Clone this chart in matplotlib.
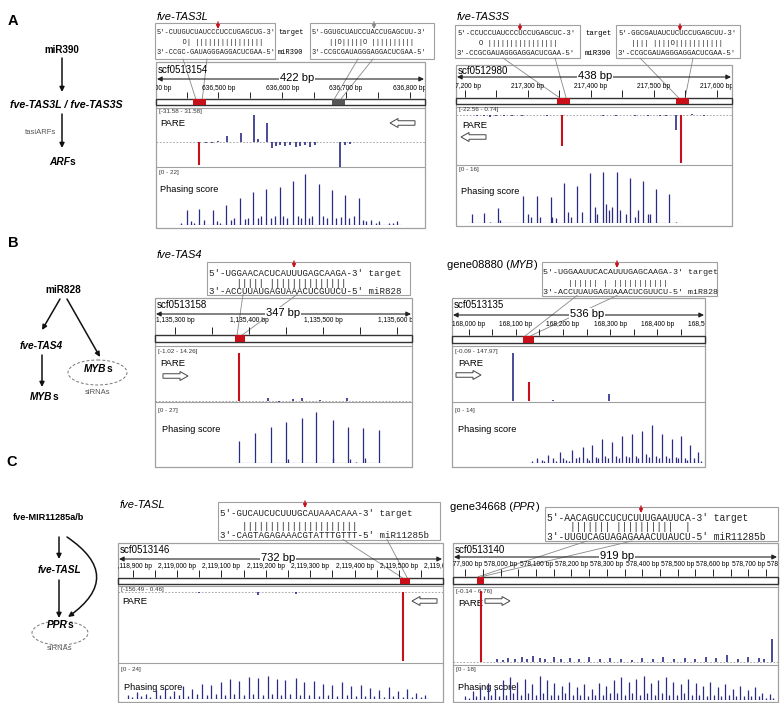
import matplotlib
matplotlib.use("Agg")
import matplotlib.pyplot as plt
from matplotlib.patches import Rectangle, Ellipse, FancyArrow, FancyArrowPatch

plt.rcParams['font.family'] = ['Liberation Sans', 'DejaVu Sans']

W, H = 780, 703
RED = '#c8101a'
NAVY = '#2b2b86'
GRAY = '#a0a0a0'
MONO = 'Liberation Mono'

# ======================= DATA =======================
# ---- A left: fve-TAS3L ----
TAS3L_region = [636402, 422]
TAS3L_ticks = [636400, 636500, 636600, 636700, 636800]
TAS3L_sites = [[636460, 636481], [636678, 636699]]
TAS3L_site_colors = ['red', 'gray']
TAS3L_pare_range = [-31.58, 31.58]
TAS3L_pare_pos = [636420, 636430, 636440, 636480, 636490, 636500, 636513, 636535, 636556, 636562,
                  636576, 636584, 636590, 636597, 636604, 636612, 636622, 636628, 636636, 636644,
                  636651, 636691, 636699, 636706, 636720, 636750, 636790, 636800]
TAS3L_pare_val = [0.5, -0.5, 0.5, -1.0, -1.5, 1.0, 6.5, 9.8, 29.4, 3.0,
                  20.7, -6.0, -4.0, -3.0, -4.0, -3.0, -5.0, -4.0, -3.0, -5.0,
                  -3.0, -27.2, -3.0, -2.0, 0.5, -0.5, 0.5, 0.5]
TAS3L_red_pos = [636469]
TAS3L_red_val = [-25.0]
TAS3L_phase_range = [0, 22]
TAS3L_phase_pos = [636450, 636470, 636491, 636512, 636534, 636554, 636575, 636596, 636617, 636636,
                   636657, 636678, 636699, 636720, 636740,
                   636442, 636457, 636462, 636477, 636497, 636502, 636520, 636524, 636542, 636547,
                   636562, 636567, 636582, 636588, 636602, 636607, 636624, 636630, 636642, 636647,
                   636664, 636670, 636685, 636692, 636705, 636712, 636727, 636732, 636747, 636752,
                   636767, 636774, 636780]
TAS3L_phase_val = [6.3, 7.0, 6.3, 8.7, 11.7, 14.0, 15.5, 16.2, 18.7, 21.9,
                   17.6, 14.8, 12.7, 11.3, 2.0,
                   1.0, 1.5, 1.0, 2.0, 1.5, 1.0, 2.0, 3.0, 2.5, 3.0,
                   3.0, 4.0, 3.0, 4.0, 4.0, 3.0, 4.0, 3.0, 3.0, 4.0,
                   4.0, 3.0, 3.0, 3.5, 3.0, 4.0, 2.0, 1.5, 1.0, 1.5,
                   1.0, 1.0, 1.5]
TAS3L_align1 = ["5'-CUUGUCUAUCCCUCCUGAGCUG-3'", "      O| ||||||||||||||||", "3'-CCGC-GAUAGGGAGGACUCGAA-5'"]
TAS3L_align2 = ["5'-GGUGCUAUCCUACCUGAGCUU-3'", "    ||O|||||O ||||||||||", "3'-CCGCGAUAGGGAGGACUCGAA-5'"]

# ---- A right: fve-TAS3S ----
TAS3S_region = [217186, 438]
TAS3S_ticks = [217200, 217300, 217400, 217500, 217600]
TAS3S_sites = [[217346, 217367], [217535, 217556]]
TAS3S_site_colors = ['red', 'red']
TAS3S_pare_range = [-22.56, 0.74]
TAS3S_pare_pos = [217220, 217230, 217240, 217250, 217262, 217275, 217290, 217330, 217420, 217440,
                  217470, 217490, 217510, 217520, 217535, 217560, 217580]
TAS3S_pare_val = [-0.6, -0.4, -0.8, -0.5, -0.6, -0.4, -0.3, -0.5, -0.4, -0.3,
                  -0.5, -0.7, -0.4, -0.6, -7.0, 0.3, -0.3]
TAS3S_red_pos = [217354, 217543]
TAS3S_red_val = [-14.3, -22.56]
TAS3S_phase_range = [0, 16]
TAS3S_phase_pos = [217211, 217231, 217253, 217293, 217314, 217336, 217357, 217378, 217399, 217420,
                   217441, 217462, 217483, 217504, 217524,
                   217300, 217305, 217320, 217339, 217344, 217364, 217369, 217386, 217407, 217410,
                   217424, 217429, 217434, 217446, 217456, 217470, 217475, 217491, 217494, 217256,
                   217240, 217535]
TAS3S_phase_val = [2.8, 3.1, 4.6, 8.5, 8.5, 8.1, 12.4, 11.6, 15.7, 16.0,
                   16.0, 14.1, 13.1, 10.5, 9.0,
                   3.0, 2.0, 2.0, 2.0, 1.5, 3.5, 2.0, 3.5, 5.0, 3.0,
                   6.0, 4.0, 5.0, 4.0, 3.0, 2.0, 4.0, 3.0, 3.0, 1.0,
                   0.5, 0.5]
TAS3S_align1 = ["5'-CCUCCUAUCCCUCCUGAGCUC-3'", "     O ||||||||||||||||", "3'-CCGCGAUAGGGAGGACUCGAA-5'"]
TAS3S_align2 = ["5'-GGCGAUAUCUCUCCUGAGCUU-3'", "   |||| ||||O|||||||||||", "3'-CCGCGAUAGGGAGGACUCGAA-5'"]

# ---- B left: fve-TAS4 ----
TAS4_region = [1135273, 347]
TAS4_ticks = [1135300, 1135400, 1135500, 1135600]
TAS4_sites = [[1135381, 1135395]]
TAS4_site_colors = ['red']
TAS4_pare_range = [-1.02, 14.26]
TAS4_pare_pos = [1135426, 1135440, 1135460, 1135471, 1135496, 1135532]
TAS4_pare_val = [0.8, -0.3, 0.6, 0.9, 0.3, 0.7]
TAS4_red_pos = [1135387]
TAS4_red_val = [14.26]
TAS4_phase_range = [0, 27]
TAS4_phase_pos = [1135387, 1135408, 1135429, 1135450, 1135471, 1135491, 1135513, 1135533, 1135554, 1135575,
                  1135452, 1135514, 1135536, 1135557, 1135545]
TAS4_phase_val = [11.8, 16.0, 18.8, 21.8, 23.5, 27.0, 22.6, 18.8, 18.3, 17.4,
                  2.0, 3.0, 2.0, 3.0, 0.5]
TAS4_align = ["5'-UGGAACACUCAUUUGAGCAAGA-3' target", "     ||||| ||||||||||||||", "3'-ACCUUAUGAGUAAACUCGUUCU-5' miR828"]

# ---- B right: gene08880 (MYB) ----
MYB_region = [167965, 536]
MYB_ticks = [168000, 168100, 168200, 168300, 168400, 168500]
MYB_sites = [[168116, 168139]]
MYB_site_colors = ['red']
MYB_pare_range = [-0.09, 147.97]
MYB_pare_pos = [168095, 168298, 168050, 168180, 168240, 168400]
MYB_pare_val = [147.97, 21.0, 0.8, 1.0, 0.6, 0.8]
MYB_red_pos = [168129]
MYB_red_val = [58.0]
MYB_phase_range = [0, 14]
MYB_phase_pos = [168145, 168169, 168194, 168220, 168243, 168262, 168283, 168304, 168325, 168347,
                 168368, 168389, 168410, 168431, 168450, 168469, 168486,
                 168135, 168155, 168160, 168178, 168185, 168200, 168206, 168212, 168228, 168235,
                 168250, 168255, 168270, 168275, 168290, 168296, 168312, 168318, 168333, 168340,
                 168355, 168360, 168376, 168382, 168397, 168403, 168418, 168424, 168439, 168444,
                 168458, 168463, 168477, 168492]
MYB_phase_val = [1.5, 2.2, 3.0, 3.6, 4.4, 5.1, 6.6, 5.8, 7.3, 8.0,
                 8.8, 10.5, 8.0, 6.6, 7.3, 5.1, 3.0,
                 0.7, 1.0, 0.7, 1.4, 0.7, 1.4, 1.0, 0.7, 1.4, 1.8,
                 1.4, 1.0, 1.8, 1.4, 2.1, 1.4, 2.1, 1.4, 2.1, 1.8,
                 2.1, 1.4, 2.5, 1.8, 2.1, 1.4, 2.1, 1.4, 1.8, 1.4,
                 1.4, 1.0, 1.4, 0.7]
MYB_align = ["5'-UGGAAUUCACAUUUGAGCAAGA-3' target", "     |||||| | |||||||||||", "3'-ACCUUAUGAGUAAACUCGUUCU-5' miR828"]

# ---- C left: fve-TASL ----
TASL_region = [2118867, 732]
TASL_ticks = [2118900, 2119000, 2119100, 2119200, 2119300, 2119400, 2119500, 2119600]
TASL_sites = [[2119503, 2119525]]
TASL_site_colors = ['red']
TASL_pare_range = [-156.49, 0.46]
TASL_pare_pos = [2118950, 2119050, 2119100, 2119182, 2119269, 2119350]
TASL_pare_val = [-1.0, -1.5, -1.0, -6.0, -4.0, -0.5]
TASL_red_pos = [2119510]
TASL_red_val = [-156.49]
TASL_phase_range = [0, 24]
TASL_phase_pos = [2118889, 2118909, 2118930, 2118952, 2118972, 2118994, 2119014, 2119034, 2119057, 2119077,
                  2119099, 2119119, 2119139, 2119162, 2119182, 2119204, 2119224, 2119244, 2119267, 2119287,
                  2119309, 2119329, 2119349, 2119372, 2119392, 2119414, 2119434, 2119454, 2119477, 2119497,
                  2119519, 2119539, 2119559,
                  2118899, 2118919, 2118940, 2118962, 2118983, 2119004, 2119024, 2119045, 2119067, 2119088,
                  2119109, 2119129, 2119150, 2119172, 2119193, 2119214, 2119234, 2119255, 2119277, 2119298,
                  2119319, 2119339, 2119360, 2119382, 2119403, 2119424, 2119444, 2119465, 2119487, 2119508,
                  2119529, 2119549]
TASL_phase_val = [3.2, 5.6, 4.0, 7.2, 8.8, 6.0, 10.0, 8.0, 12.0, 11.2,
                  13.2, 15.2, 14.0, 16.8, 16.0, 17.6, 15.2, 14.4, 16.0, 13.2,
                  14.0, 12.0, 11.2, 12.8, 10.0, 11.2, 8.8, 7.2, 9.6, 6.0,
                  8.0, 4.8, 3.2,
                  1.6, 2.4, 1.6, 3.2, 2.4, 3.2, 2.4, 4.0, 3.2, 4.0,
                  3.2, 4.0, 3.2, 4.0, 3.2, 4.0, 3.2, 4.0, 3.2, 3.2,
                  2.4, 3.2, 2.4, 3.2, 2.4, 2.4, 2.4, 1.6, 2.4, 1.6,
                  1.6, 1.2]
TASL_align = ["5'-GUCAUCUCUUUGCAUAAACAAA-3' target", "    |||||||||||||||||||||", "3'-CAGTAGAGAAACGTATTTGTTT-5' miR11285b"]

# ---- C right: gene34668 (PPR) ----
PPR_region = [577865, 919]
PPR_ticks = [577900, 578000, 578100, 578200, 578300, 578400, 578500, 578600, 578700, 578800]
PPR_sites = [[577932, 577952]]
PPR_site_colors = ['red']
PPR_pare_range = [-0.14, 6.76]
PPR_pare_pos = [577990, 578005, 578020, 578040, 578060, 578075, 578090, 578110, 578125, 578150,
                578170, 578195, 578220, 578250, 578280, 578310, 578340, 578370, 578400, 578430,
                578460, 578490, 578520, 578550, 578580, 578610, 578640, 578670, 578700, 578730,
                578745, 578766]
PPR_pare_val = [0.3, 0.2, 0.4, 0.3, 0.5, 0.3, 0.6, 0.4, 0.3, 0.5,
                0.3, 0.4, 0.3, 0.5, 0.3, 0.4, 0.3, 0.2, 0.4, 0.3,
                0.5, 0.3, 0.4, 0.3, 0.5, 0.4, 0.7, 0.3, 0.5, 0.4,
                0.3, 2.2]
PPR_red_pos = [577943]
PPR_red_val = [6.76]
PPR_phase_range = [0, 18]
PPR_phase_pos = [577900, 577921, 577942, 577963, 577984, 578005, 578026, 578047, 578068, 578089,
                 578110, 578131, 578152, 578173, 578194, 578215, 578236, 578257, 578278, 578299,
                 578320, 578341, 578362, 578383, 578404, 578425, 578446, 578467, 578488, 578509,
                 578530, 578551, 578572, 578593, 578614, 578635, 578656, 578677, 578698, 578719,
                 578740, 578761,
                 577910, 577931, 577952, 577973, 577994, 578015, 578036, 578057, 578078, 578099,
                 578120, 578141, 578162, 578183, 578204, 578225, 578246, 578267, 578288, 578309,
                 578330, 578351, 578372, 578393, 578414, 578435, 578456, 578477, 578498, 578519,
                 578540, 578561, 578582, 578603, 578624, 578645, 578666, 578687, 578708, 578729,
                 578750, 578771]
PPR_phase_val = [2.4, 4.8, 7.2, 9.6, 6.4, 11.2, 12.8, 10.4, 12.0, 8.8,
                 13.6, 11.2, 9.6, 8.0, 10.4, 7.2, 8.8, 6.4, 9.6, 8.0,
                 11.2, 12.8, 10.4, 12.0, 13.6, 9.6, 11.2, 12.8, 10.4, 8.8,
                 12.0, 9.6, 8.0, 10.4, 7.2, 8.8, 6.4, 8.0, 5.6, 7.2,
                 4.0, 3.2,
                 1, 2, 2, 3, 2, 3, 4, 3, 4, 3,
                 4, 3, 3, 4, 3, 3, 2, 3, 3, 4,
                 4, 3, 4, 3, 4, 3, 4, 3, 3, 4,
                 3, 3, 2, 3, 2, 3, 2, 2, 2, 2,
                 1, 1]
PPR_align = ["5'-AACAGUCCUCUCUUUGAAUUCA-3' target", "    ||||||| ||||||||||  |", "3'-UUGUCAGUAGAGAAACUUAUCU-5' miR11285b"]

# ======================= FIGURE =======================
fig = plt.figure(figsize=(W / 100, H / 100), dpi=100)
bg = fig.add_axes([0, 0, 1, 1])
bg.set_xlim(0, W)
bg.set_ylim(H, 0)
bg.set_axis_off()
bg.set_zorder(0)
_r = fig.canvas.get_renderer()


def add_ax(x0, x1, y0, y1):
    ax = fig.add_axes([x0 / W, 1 - y1 / H, (x1 - x0) / W, (y1 - y0) / H])
    ax.set_axis_off()
    ax.set_zorder(2)
    ax.patch.set_visible(False)
    return ax


def rich(x, y, pieces, size, ha='left', color='k'):
    widths = []
    for s, kw in pieces:
        t = bg.text(0, 0, s, fontsize=size, **kw)
        widths.append(t.get_window_extent(_r).width)
        t.remove()
    cx = x - sum(widths) / 2 if ha == 'center' else x
    for (s, kw), w in zip(pieces, widths):
        bg.text(cx, y, s, fontsize=size, va='center', ha='left', color=color, **kw)
        cx += w


def red_arrow(x, y0, y1, color=RED):
    bg.annotate('', xy=(x, y1), xytext=(x, y0),
                arrowprops=dict(arrowstyle='-|>', color=color, lw=1.0, mutation_scale=5,
                                shrinkA=0, shrinkB=0))


def hollow(x, y, dx):
    bg.add_patch(FancyArrow(x, y, dx, 0, width=4.5, head_width=9, head_length=8,
                            length_includes_head=True, fc='white', ec='#444', lw=0.7, zorder=3))


def panel(L, region, ticks, sites, site_colors, pare_range, pare_pos, pare_val, red_pos, red_val,
          phase_range, phase_pos, phase_val):
    start, length = region
    end = start + length
    fx0, fx1, fy0, fy1 = L['frame']

    def px(bp):
        return fx0 + (bp - start) / length * (fx1 - fx0)

    bg.add_patch(Rectangle((fx0, fy0), fx1 - fx0, fy1 - fy0, fill=False, ec=GRAY, lw=0.9))
    bg.plot([fx0, fx1], [L['div1']] * 2, color=GRAY, lw=0.8)
    bg.plot([fx0, fx1], [L['div2']] * 2, color=GRAY, lw=0.8)
    bg.text(fx0 + 2, L['scf_y'], L['scf'], fontsize=7, va='center', ha='left')
    # ruler
    ry = L['ruler_y']
    bg.annotate('', xy=(fx0 + 1, ry), xytext=(fx1 - 1, ry),
                arrowprops=dict(arrowstyle='<|-|>', color='#222', lw=0.8, mutation_scale=7,
                                shrinkA=0, shrinkB=0))
    bg.text(L['len_x'], ry - 1, f"{length} bp", fontsize=8, ha='center', va='center',
            bbox=dict(fc='white', ec='none', pad=0.5), zorder=4)
    b0, b1 = L['bar']
    ra = add_ax(fx0, fx1, fy0, b1 + 1)
    ra.set_xlim(start, end)
    ra.set_ylim(b1 + 1, fy0)
    t0, t1 = L['tick']
    ra.vlines(ticks, t0, t1, color='#222', lw=0.7)
    ra.vlines([t + 50 for t in ticks], t0, t1, color='#222', lw=0.7)
    for t in ticks:
        ra.text(t, L['lab_y'], f"{t:,} bp", fontsize=4.8, ha='center', va='center', clip_on=True)
    ra.add_patch(Rectangle((start, b0), length, b1 - b0, fc='white', ec='#333', lw=1.0, clip_on=False))
    for (s0, s1), c in zip(sites, site_colors):
        ra.add_patch(Rectangle((s0, b0), s1 - s0, b1 - b0, fc=RED if c == 'red' else '#555555',
                               ec='none'))
    # PARE
    p0, p1 = L['pare']
    pa = add_ax(fx0, fx1, p0, p1)
    pa.set_xlim(start, end)
    pa.set_ylim(*pare_range)
    pa.axhline(0, color='#999', lw=0.6, ls=(0, (2, 2)))
    pa.vlines(pare_pos, 0, pare_val, color=NAVY, lw=1.2)
    pa.vlines(red_pos, 0, red_val, color=RED, lw=1.5)
    bg.text(fx0 + 3, L['pare_lab_y'], f"[{pare_range[0]} - {pare_range[1]}]", fontsize=4.5,
            va='center', color='#333')
    bg.text(L['pare_txt'][0], L['pare_txt'][1], 'PARE', fontsize=6.8, va='center')
    hollow(*L['hollow'])
    # phasing
    q0, q1 = L['phase']
    qa = add_ax(fx0, fx1, q0, q1)
    qa.set_xlim(start, end)
    qa.set_ylim(*phase_range)
    qa.hlines(0, min(phase_pos) - 8, max(phase_pos) + 8, color=NAVY, lw=0.8)
    qa.vlines(phase_pos, 0, phase_val, color=NAVY, lw=0.9)
    bg.text(fx0 + 3, L['phase_lab_y'], f"[{phase_range[0]} - {phase_range[1]}]", fontsize=4.5,
            va='center', color='#333')
    bg.text(L['phase_txt'][0], L['phase_txt'][1], 'Phasing score', fontsize=6.6, va='center')
    # alignment boxes
    for A in L['aligns']:
        x0, y0, x1, y1 = A['box']
        bg.add_patch(Rectangle((x0, y0), x1 - x0, y1 - y0, fill=False, ec=GRAY, lw=0.8))
        for s, yy in zip(A['lines'], A['ys']):
            bg.text(A['tx'], yy, s, family=MONO, fontsize=A['fs'], va='center', ha='left', color='#222')
        red_arrow(A['arrow'], y0 - 1, y0 + 6, RED if A.get('acol', 'red') == 'red' else '#888')
        s0, s1 = sites[A['site']]
        w = s1 - s0
        ends = [px(s0 + 0.2 * w), px(s0 + 0.7 * w)]
        for bx, ex in zip(A['conn'], ends):
            bg.plot([bx, ex], [y1, b0], color='#888', lw=0.6)


# ---------------- panel titles ----------------
rich(157, 17, [("fve-TAS3L", dict(style='italic'))], 8)
rich(457, 17, [("fve-TAS3S", dict(style='italic'))], 8)
rich(157, 255, [("fve-TAS4", dict(style='italic'))], 8)
rich(447, 265, [("gene08880 (", {}), ("MYB", dict(style='italic')), (")", {})], 8)
rich(120, 505, [("fve-TASL", dict(style='italic'))], 8)
rich(450, 507, [("gene34668 (", {}), ("PPR", dict(style='italic')), (")", {})], 8)

# A left
panel(dict(frame=(156, 425, 62, 228), scf='scf0513154', scf_y=70, ruler_y=79, len_x=297,
           lab_y=88, tick=(92, 98), bar=(98.5, 105), div1=108, pare=(113, 171), div2=167,
           pare_lab_y=112, pare_txt=(160, 123), hollow=(415, 123, -25),
           phase=(173.3, 225), phase_lab_y=172.5, phase_txt=(160, 190),
           aligns=[dict(box=(155, 23, 275, 59), tx=157, ys=[32, 43, 53], lines=TAS3L_align1, fs=5.0,
                        arrow=218, site=0, conn=[183, 207]),
                   dict(box=(310, 23, 434, 59), tx=312, ys=[32, 43, 53], lines=TAS3L_align2, fs=5.0,
                        arrow=374, acol='gray', site=1, conn=[358, 373])]),
      TAS3L_region, TAS3L_ticks, TAS3L_sites, TAS3L_site_colors, TAS3L_pare_range, TAS3L_pare_pos,
      TAS3L_pare_val, TAS3L_red_pos, TAS3L_red_val, TAS3L_phase_range, TAS3L_phase_pos, TAS3L_phase_val)
bg.text(278, 32, 'target', family=MONO, fontsize=5.0, va='center')
bg.text(278, 53, 'miR390', family=MONO, fontsize=5.0, va='center')

# A right
panel(dict(frame=(456, 732, 65, 226), scf='scf0512980', scf_y=71, ruler_y=77, len_x=595,
           lab_y=87, tick=(90, 97), bar=(97.7, 104.3), div1=107, pare=(113.4, 163.3), div2=165,
           pare_lab_y=110, pare_txt=(462, 126), hollow=(486, 137, -25),
           phase=(171.7, 223.3), phase_lab_y=170, phase_txt=(461, 191),
           aligns=[dict(box=(455, 25, 580, 58), tx=457, ys=[33.3, 43.3, 53.3], lines=TAS3S_align1, fs=5.3,
                        arrow=520, site=0, conn=[503, 555]),
                   dict(box=(616, 25, 740, 58), tx=618, ys=[33.3, 43.3, 53.3], lines=TAS3S_align2, fs=5.3,
                        arrow=680, site=1, conn=[640, 693])]),
      TAS3S_region, TAS3S_ticks, TAS3S_sites, TAS3S_site_colors, TAS3S_pare_range, TAS3S_pare_pos,
      TAS3S_pare_val, TAS3S_red_pos, TAS3S_red_val, TAS3S_phase_range, TAS3S_phase_pos, TAS3S_phase_val)
bg.text(585, 33.3, 'target', family=MONO, fontsize=5.3, va='center')
bg.text(585, 53.3, 'miR390', family=MONO, fontsize=5.3, va='center')

# B left
panel(dict(frame=(155, 412, 298, 467), scf='scf0513158', scf_y=305, ruler_y=314, len_x=283,
           lab_y=321, tick=(327, 334), bar=(335, 342.3), div1=346, pare=(353, 404.1), div2=401.7,
           pare_lab_y=352, pare_txt=(160, 363), hollow=(163, 376, 25),
           phase=(411.7, 463.3), phase_lab_y=410.7, phase_txt=(162, 430),
           aligns=[dict(box=(207, 262, 410, 294.5), tx=209, ys=[273, 283, 291.5], lines=TAS4_align, fs=6.6,
                        arrow=294, site=0, conn=[243, 297])]),
      TAS4_region, TAS4_ticks, TAS4_sites, TAS4_site_colors, TAS4_pare_range, TAS4_pare_pos,
      TAS4_pare_val, TAS4_red_pos, TAS4_red_val, TAS4_phase_range, TAS4_phase_pos, TAS4_phase_val)

# B right
panel(dict(frame=(452, 705, 298, 467), scf='scf0513135', scf_y=305, ruler_y=315, len_x=587,
           lab_y=325, tick=(329, 335), bar=(335.7, 342.7), div1=346, pare=(352.5, 400.8), div2=401.7,
           pare_lab_y=352, pare_txt=(458, 363), hollow=(456, 375, 25),
           phase=(411.7, 463.3), phase_lab_y=410.7, phase_txt=(458, 430),
           aligns=[dict(box=(542, 262, 717, 295.5), tx=543, ys=[272.7, 283.3, 292.5], lines=MYB_align, fs=6.0,
                        arrow=617, site=0, conn=[577, 617])]),
      MYB_region, MYB_ticks, MYB_sites, MYB_site_colors, MYB_pare_range, MYB_pare_pos,
      MYB_pare_val, MYB_red_pos, MYB_red_val, MYB_phase_range, MYB_phase_pos, MYB_phase_val)

# C left
panel(dict(frame=(118, 443, 543, 702), scf='scf0513146', scf_y=550, ruler_y=559, len_x=278,
           lab_y=566, tick=(570, 577), bar=(577.7, 583.5), div1=586, pare=(591.8, 661), div2=663,
           pare_lab_y=589, pare_txt=(122, 601), hollow=(437, 601, -25),
           phase=(668, 699), phase_lab_y=669, phase_txt=(124, 688),
           aligns=[dict(box=(218, 502, 440, 539.5), tx=220, ys=[514, 526.5, 535.5], lines=TASL_align, fs=6.6,
                        arrow=305, site=0, conn=[343, 387])]),
      TASL_region, TASL_ticks, TASL_sites, TASL_site_colors, TASL_pare_range, TASL_pare_pos,
      TASL_pare_val, TASL_red_pos, TASL_red_val, TASL_phase_range, TASL_phase_pos, TASL_phase_val)

# C right
panel(dict(frame=(453, 778, 543, 702), scf='scf0513140', scf_y=550, ruler_y=557, len_x=617,
           lab_y=565, tick=(569, 576), bar=(576.7, 584.3), div1=587, pare=(591, 663.5), div2=664.5,
           pare_lab_y=592, pare_txt=(458, 603), hollow=(485, 601, 25),
           phase=(668, 700), phase_lab_y=670, phase_txt=(458, 687),
           aligns=[dict(box=(545, 507, 778, 541), tx=547, ys=[517.7, 527.5, 537.5], lines=PPR_align, fs=6.9,
                        arrow=641, site=0, conn=[587, 632])]),
      PPR_region, PPR_ticks, PPR_sites, PPR_site_colors, PPR_pare_range, PPR_pare_pos,
      PPR_pare_val, PPR_red_pos, PPR_red_val, PPR_phase_range, PPR_phase_pos, PPR_phase_val)

# ---------------- left pathway diagrams ----------------
BI = dict(weight='bold', style='italic')
B_ = dict(weight='bold')


def arrow(x0, y0, x1, y1, rad=0.0):
    bg.add_patch(FancyArrowPatch((x0, y0), (x1, y1), arrowstyle='-|>', mutation_scale=7,
                                 connectionstyle=f'arc3,rad={rad}', color='#111', lw=1.1,
                                 shrinkA=0, shrinkB=0))


bg.text(13, 21, 'A', fontsize=10.5, weight='bold', ha='center', va='center')
bg.text(13, 243, 'B', fontsize=10.5, weight='bold', ha='center', va='center')
bg.text(12, 462, 'C', fontsize=10.5, weight='bold', ha='center', va='center')

# A
rich(62, 50, [("miR390", B_)], 7.0, ha='center')
arrow(62, 58, 62, 92)
rich(66, 105, [("fve-TAS3L / fve-TAS3S", BI)], 7.7, ha='center')
arrow(62, 114, 62, 148)
bg.text(40, 133, 'tasiARFs', fontsize=5.5, color='#555', ha='center', va='center')
rich(62, 162, [("ARF", BI), ("s", B_)], 7.3, ha='center')

# B
rich(63, 290, [("miR828", B_)], 7.2, ha='center')
arrow(60, 299, 42, 330)
arrow(67, 299, 100, 357)
rich(41, 346, [("fve-TAS4", BI)], 7.3, ha='center')
arrow(42, 355, 42, 387)
rich(44, 397, [("MYB", BI), ("s", B_)], 7.3, ha='center')
bg.add_patch(Ellipse((97.5, 372.5), 59, 25, fill=False, ec='#777', lw=0.7, ls=(0, (3, 2))))
rich(98, 369, [("MYB", BI), ("s", B_)], 7.3, ha='center')
bg.text(98, 392, 'siRNAs', fontsize=5.5, color='#555', ha='center', va='center')

# C
rich(48, 518, [("fve-MIR11285a/b", B_)], 6.6, ha='center')
arrow(59, 537, 59, 559)
rich(59, 570, [("fve-TASL", BI)], 7.3, ha='center')
arrow(59, 580, 59, 618)
arrow(67, 537, 68, 617, rad=-0.72)
rich(60, 625, [("PPR", BI), ("s", B_)], 7.3, ha='center')
bg.add_patch(Ellipse((60, 633), 56, 24, fill=False, ec='#777', lw=0.7, ls=(0, (3, 2))))
bg.text(60, 649, 'siRNAs', fontsize=5.5, color='#555', ha='center', va='center')

fig.savefig('out.png', dpi=100)
